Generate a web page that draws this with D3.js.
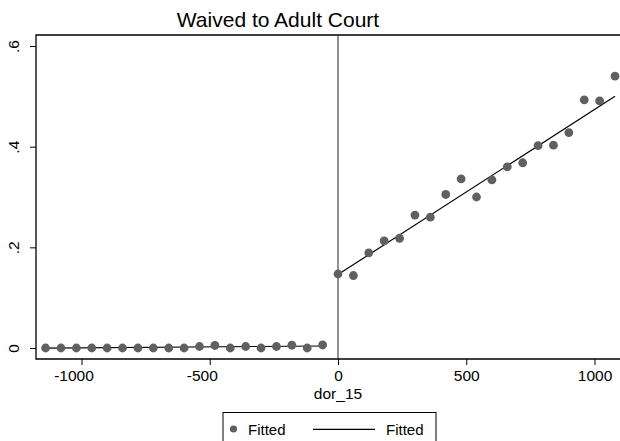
<!DOCTYPE html>
<html>
<head>
<meta charset="utf-8">
<script src="https://cdn.jsdelivr.net/npm/d3@7"></script>
<style>
  html, body { margin: 0; padding: 0; background: #fff; }
  svg { display: block; font-family: "Liberation Sans", Arial, sans-serif; }
</style>
</head>
<body>
<svg id="chart" width="620" height="441"></svg>
<script>
// binned means, left of cutoff
const leftX = [-1140, -1080, -1020, -960, -900, -840, -780, -720, -660, -600,
               -540, -480, -420, -360, -300, -240, -180, -120, -60];
const leftY = [0, 0, 0, 0, 0, 0, 0, 0, 0, 0,
               0.003, 0.005, 0, 0.003, 0, 0.003, 0.0055, 0, 0.006];
// binned means, right of cutoff
const rightX = [0, 60, 120, 180, 240, 300, 360, 420, 480, 540,
                600, 660, 720, 780, 840, 900, 960, 1020, 1080];
const rightY = [0.147, 0.144, 0.189, 0.213, 0.218, 0.264, 0.260, 0.305, 0.336, 0.300,
                0.334, 0.360, 0.368, 0.402, 0.403, 0.428, 0.493, 0.491, 0.540];
// fitted lines (endpoints)
const fitLeft = [[-1140, -0.0003], [-60, 0.004]];
const fitRight = [[0, 0.146], [1080, 0.500]];
const xTicks = [-1000, -500, 0, 500, 1000];
const yTicks = [0, 0.2, 0.4, 0.6];
const yTickLabels = ["0", ".2", ".4", ".6"];

const svg = d3.select("#chart");
const frame = { left: 36, right: 625, top: 35, bottom: 359 };
const FONT = "'Liberation Sans', Arial, sans-serif";

const x = d3.scaleLinear().domain([-1000, 1000]).range([81.5, 594.5]);
const y = d3.scaleLinear().domain([0, 0.6]).range([348, 46]);

// Title
svg.append("text")
  .attr("x", 278).attr("y", 27)
  .attr("text-anchor", "middle")
  .style("font-size", "21px").style("fill", "#000")
  .text("Waived to Adult Court");

// Frame (top, left, bottom)
svg.append("path")
  .attr("d", `M${frame.right},${frame.top}H${frame.left}V${frame.bottom}H${frame.right}`)
  .attr("fill", "none").attr("stroke", "#000").attr("stroke-width", 1.3);

// Cutoff line
svg.append("line")
  .attr("x1", x(0)).attr("x2", x(0))
  .attr("y1", frame.top).attr("y2", frame.bottom)
  .attr("stroke", "#222").attr("stroke-width", 1);

// X axis
const gx = svg.append("g").attr("transform", `translate(0,${frame.bottom})`)
  .call(d3.axisBottom(x).tickValues(xTicks).tickSize(6).tickPadding(5).tickFormat(d3.format("d")));
gx.select(".domain").remove();
gx.selectAll(".tick line").attr("stroke", "#000");
gx.selectAll(".tick text").style("font-size", "15.5px").style("fill", "#000")
  .style("font-family", FONT)
  .attr("dx", d => d < 0 ? -8 : 0)
  .text(d => d < 0 ? "-" + Math.abs(d) : d);

svg.append("text")
  .attr("x", x(0)).attr("y", 399)
  .attr("text-anchor", "middle")
  .style("font-size", "15.5px")
  .text("dor_15");

// Y axis
const gy = svg.append("g").attr("transform", `translate(${frame.left},0)`)
  .call(d3.axisLeft(y).tickValues(yTicks).tickSize(6).tickFormat((d, i) => yTickLabels[i]));
gy.select(".domain").remove();
gy.selectAll(".tick line").attr("stroke", "#000");
gy.selectAll(".tick text")
  .style("font-size", "15.5px").style("fill", "#000")
  .style("font-family", FONT)
  .attr("x", null)
  .attr("text-anchor", "middle")
  .attr("transform", "translate(-22,0) rotate(-90)")
  .attr("y", 0)
  .attr("dy", "0.35em");

// Fitted lines
const line = d3.line().x(d => x(d[0])).y(d => y(d[1]));
[fitLeft, fitRight].forEach(seg => {
  svg.append("path").attr("d", line(seg))
    .attr("fill", "none").attr("stroke", "#000").attr("stroke-width", 1.2);
});

// Dots
const pts = leftX.map((v, i) => [v, leftY[i]]).concat(rightX.map((v, i) => [v, rightY[i]]));
svg.append("g").selectAll("circle").data(pts).join("circle")
  .attr("cx", d => x(d[0])).attr("cy", d => y(d[1]))
  .attr("r", 4.4).attr("fill", "#606060");

// Legend
const lg = svg.append("g");
lg.append("rect")
  .attr("x", 223).attr("y", 412.5).attr("width", 213).attr("height", 40)
  .attr("fill", "#fff").attr("stroke", "#000").attr("stroke-width", 1);
lg.append("circle").attr("cx", 233.5).attr("cy", 429).attr("r", 3.6).attr("fill", "#606060");
lg.append("text").attr("x", 248).attr("y", 435).style("font-size", "15px").text("Fitted");
lg.append("line").attr("x1", 313).attr("x2", 375).attr("y1", 429.3).attr("y2", 429.3)
  .attr("stroke", "#000").attr("stroke-width", 1.2);
lg.append("text").attr("x", 386).attr("y", 435).style("font-size", "15px").text("Fitted");
</script>
</body>
</html>
